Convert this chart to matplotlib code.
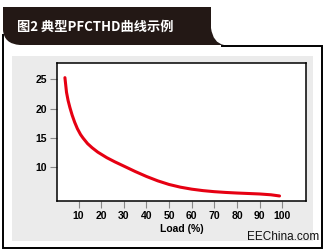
import matplotlib.pyplot as plt
from matplotlib.path import Path
from matplotlib.patches import PathPatch, Rectangle

# data
load = [4.0, 4.7, 5.4, 6.2, 7.2, 8.3, 9.5, 10.9, 12, 14, 16, 18.5, 22.5, 26, 30,
        35, 40, 45, 50, 55, 60, 65, 70, 75, 80, 85, 90, 95, 98.8]
thd = [25.3, 22.8, 21.4, 20.2, 18.9, 17.7, 16.6, 15.6, 15.0, 14.05, 13.35, 12.6,
       11.65, 10.95, 10.22, 9.3, 8.45, 7.7, 7.08, 6.62, 6.28, 6.03, 5.85, 5.72,
       5.62, 5.54, 5.46, 5.32, 5.12]
xticks = [10, 20, 30, 40, 50, 60, 70, 80, 90, 100]
yticks = [10, 15, 20, 25]
title = "图2 典型PFCTHD曲线示例"
xlabel = "Load (%)"
credit = "EEChina.com"

W, H = 326, 252
fig = plt.figure(figsize=(W / 100, H / 100), dpi=100)
fig.patch.set_facecolor("white")

# decoration layer in pixel coordinates
bg = fig.add_axes([0, 0, 1, 1])
bg.set_xlim(0, W)
bg.set_ylim(H, 0)
bg.axis("off")

# dark header tab
verts = [(3, 7), (211, 7), (211, 28), (213, 43), (224, 45), (20, 45),
         (4, 44), (3, 30), (3, 7)]
codes = [Path.MOVETO, Path.LINETO, Path.LINETO, Path.CURVE3, Path.CURVE3,
         Path.LINETO, Path.CURVE3, Path.CURVE3, Path.CLOSEPOLY]
bg.add_patch(PathPatch(Path(verts, codes), facecolor="#231815", edgecolor="none"))
bg.text(17, 27, title, color="white", fontsize=9.5, fontweight="heavy",
        family=["Noto Sans CJK SC", "DejaVu Sans"], va="center", ha="left")

# outer frame
bg.plot([3, 3, 322, 322, 222], [35, 248, 248, 46, 46], color="black", lw=1.4,
        solid_joinstyle="miter")

# light grey panel
bg.add_patch(Rectangle((12, 56), 301, 185, facecolor="#ebebeb", edgecolor="none"))
bg.text(319, 237, credit, fontsize=8.5, family="Liberation Sans",
        ha="right", va="center", color="#111111")

# chart
ax = fig.add_axes([57 / W, 1 - 201 / H, 249 / W, 138 / H])
ax.set_facecolor("white")
ax.plot(load, thd, color="#e60012", lw=2.2, solid_capstyle="round",
        solid_joinstyle="round")
ax.set_xlim(0.5, 110.5)
ax.set_ylim(4.26, 27.8)
ax.set_xticks(xticks)
ax.set_yticks(yticks)
ax.set_xticklabels([str(t) for t in xticks], fontsize=7.5, fontweight="bold",
                   family="Liberation Sans")
ax.set_yticklabels([str(t) for t in yticks], fontsize=7.5, fontweight="bold",
                   family="Liberation Sans")
ax.tick_params(axis="both", direction="out", color="#888888", length=5, width=0.8, pad=2)
for s in ax.spines.values():
    s.set_color("black")
    s.set_linewidth(1.1)
ax.set_xlabel(xlabel, fontsize=7.5, family="Liberation Sans", labelpad=2,
              fontweight="semibold")

fig.savefig("out.png", dpi=100)
